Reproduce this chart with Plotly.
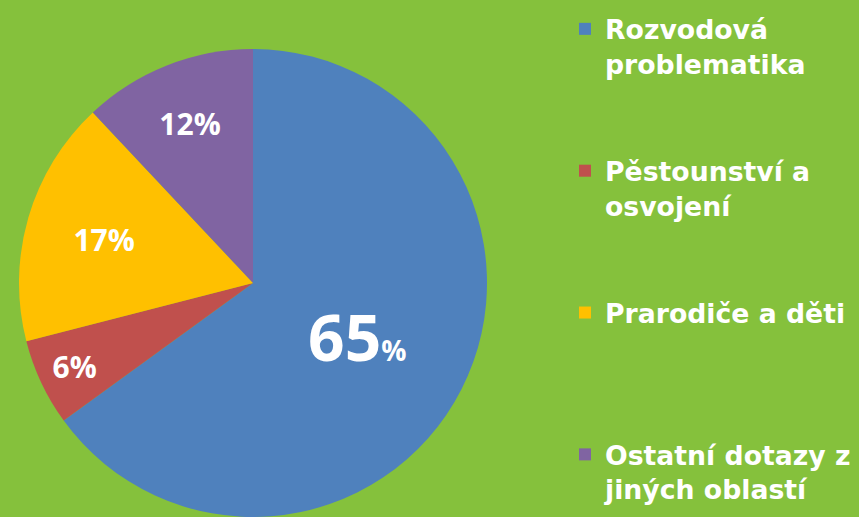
import plotly.graph_objects as go

categories = ["Rozvodová<br>problematika", "Pěstounství a<br>osvojení", "Prarodiče a děti", "Ostatní dotazy z<br>jiných oblastí"]
values = [65, 6, 17, 12]
colors = ["#4F81BD", "#C0504D", "#FFC000", "#8064A2"]

# blank lines pad each legend entry to the reference spacing
pad = ["<br> <br> ", "<br> <br> ", "<br> <br> <br> ", ""]
names = [c + p for c, p in zip(categories, pad)]

texts = []
sizes = []
for v in values:
    if v == max(values):
        texts.append(f"{v}<span style='font-size:28px'>%</span>")
        sizes.append(64)
    else:
        texts.append(f"{v}%")
        sizes.append(30)

BG = "#85C13C"
FONT = "Open Sans"
LEGEND_FONT = "DejaVu Sans"

fig = go.Figure(go.Pie(
    labels=names,
    values=values,
    text=texts,
    textinfo="text",
    texttemplate="<b>%{text}</b>",
    textposition="inside",
    insidetextorientation="horizontal",
    textfont=dict(family=FONT, size=sizes, color="white"),
    marker=dict(colors=colors, line=dict(width=0)),
    sort=False,
    direction="clockwise",
    rotation=0,
    domain=dict(x=[19/859, 487/859], y=[0, 468/517]),
    hoverinfo="label+percent",
))

fig.update_layout(
    width=859, height=517,
    paper_bgcolor=BG, plot_bgcolor=BG,
    margin=dict(l=0, r=0, t=0, b=0),
    showlegend=True,
    legend=dict(
        x=565/859, xanchor="left", y=1 - 5/517, yanchor="top",
        font=dict(family=LEGEND_FONT, size=26.7, color="white", weight="bold"),
        valign="top",
        bgcolor="rgba(0,0,0,0)",
    ),
)

fig.write_html(
    "out.html",
    config={"displayModeBar": False},
    post_script="document.body.style.margin='0';document.body.style.background='" + BG + "';",
)
